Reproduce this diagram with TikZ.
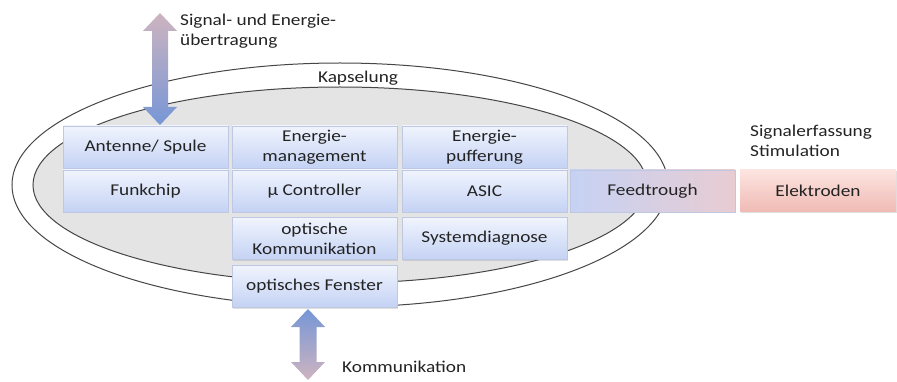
\documentclass[tikz,border=0pt]{standalone}
\usepackage{fontspec}
\setmainfont{Carlito}[FakeStretch=1.17]
\usetikzlibrary{shadows}
\definecolor{txt}{RGB}{35,35,35}
\definecolor{boxtop}{RGB}{240,244,253}
\definecolor{boxbot}{RGB}{196,210,244}
\definecolor{boxline}{RGB}{190,200,226}
\definecolor{fdleft}{RGB}{198,210,244}
\definecolor{fdright}{RGB}{232,204,210}
\definecolor{eltop}{RGB}{252,228,224}
\definecolor{elbot}{RGB}{240,186,180}
\definecolor{capgray}{RGB}{228,228,228}
\definecolor{ellline}{RGB}{70,70,70}
\definecolor{arrpink}{RGB}{206,180,192}
\definecolor{arrblue}{RGB}{118,150,214}
\tikzset{
  compbox/.style={draw=boxline, line width=0.6pt, top color=boxtop, bottom color=boxbot,
    minimum width=165pt, minimum height=42pt, inner sep=1pt, align=center,
    text=txt, font=\fontsize{16.5}{20}\selectfont,
    drop shadow={opacity=0.25, shadow xshift=1pt, shadow yshift=-1.5pt}},
  lbl/.style={text=txt, font=\fontsize{16.5}{20}\selectfont, inner sep=0pt, align=left},
  ellstyle/.style={draw=ellline, line width=1pt}
}
\begin{document}
\begin{tikzpicture}[x=1pt,y=-1pt]
\useasboundingbox (0,0) rectangle (897,382);
% capsule
\path[ellstyle, fill=white] (340,185) ellipse [x radius=328pt, y radius=122pt];
\path[ellstyle, fill=capgray] (340,185) ellipse [x radius=307pt, y radius=98pt];
% boxes
\node[compbox] (ant) at (145.5,147) {Antenne/ Spule};
\node[compbox] (emg) at (314.5,147) {Energie-\\management};
\node[compbox] (epf) at (484.5,147) {Energie-\\pufferung};
\node[compbox] (funk) at (145.5,191) {Funkchip};
\node[compbox] (mc) at (314.5,191) {µ Controller};
\node[compbox] (asic) at (484.5,191) {ASIC};
\node[compbox, left color=fdleft, right color=fdright] (feed) at (652.5,191) {Feedtrough};
\node[compbox, top color=eltop, bottom color=elbot, draw=none, minimum width=156pt] (elek) at (818,191) {Elektroden};
\node[compbox] (okom) at (314.5,238.5) {optische\\Kommunikation};
\node[compbox] (sys) at (484.5,238.5) {Systemdiagnose};
\node[compbox] (ofen) at (314.5,286) {optisches Fenster};
% top arrow
\shade[top color=arrpink, bottom color=arrblue]
  (160,13) -- (177,31) -- (168,31) -- (168,107) -- (177,107) -- (160,125)
  -- (143,107) -- (152,107) -- (152,31) -- (143,31) -- cycle;
% bottom arrow
\shade[top color=arrblue, bottom color=arrpink]
  (308,309) -- (325,327) -- (316.5,327) -- (316.5,362) -- (325,362) -- (308,380)
  -- (291,362) -- (299.5,362) -- (299.5,327) -- (291,327) -- cycle;
% labels
\node[lbl, anchor=west] (sig) at (180,31) {Signal- und Energie-\\übertragung};
\node[lbl] (kap) at (358,78) {Kapselung};
\node[lbl, anchor=west] (sst) at (750,141) {Signalerfassung\\Stimulation};
\node[lbl, anchor=west] (kom) at (342,367) {Kommunikation};
\end{tikzpicture}
\end{document}
